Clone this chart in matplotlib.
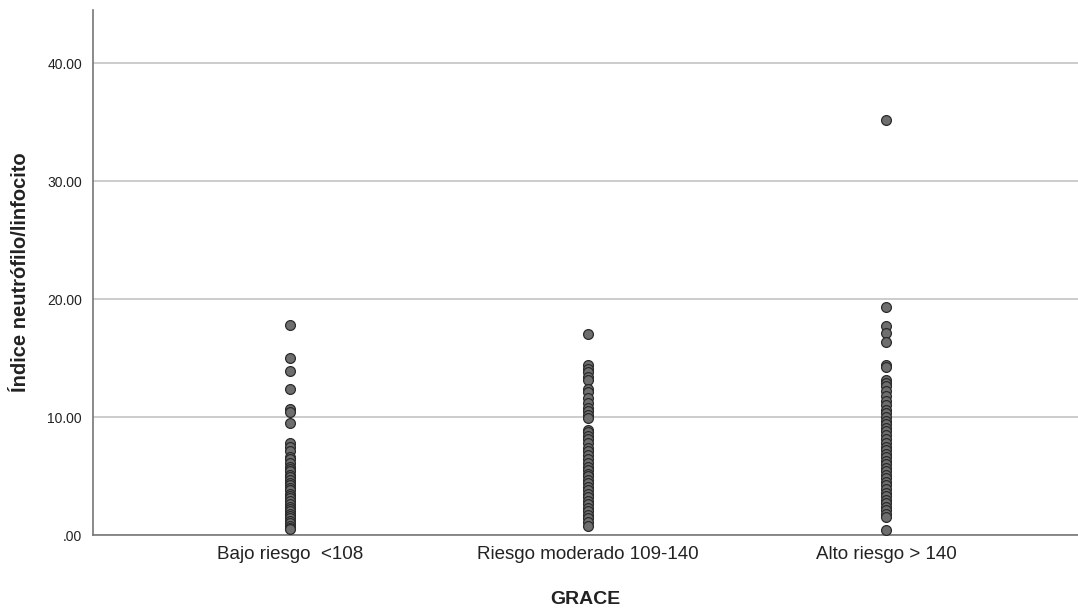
import matplotlib
matplotlib.use("Agg")
import matplotlib.pyplot as plt
import numpy as np

plt.rcParams['font.family'] = ['Liberation Sans', 'DejaVu Sans']

# categorias del eje X
categorias = ['Bajo riesgo  <108', 'Riesgo moderado 109-140', 'Alto riesgo > 140']

# valores del indice neutrofilo/linfocito por grupo
bajo = [17.8, 15.0, 13.9, 12.4, 10.7, 10.4, 9.5, 7.8, 7.5, 7.1, 6.6, 6.4,
        6.1, 5.8, 5.6, 5.4, 5.1, 4.9, 4.7, 4.4, 4.2, 4.0, 3.8, 3.5, 3.3, 3.1,
        2.9, 2.6, 2.4, 2.2, 2.0, 1.8, 1.6, 1.4, 1.2, 1.0, 0.8, 0.6, 0.5]
moderado = [17.0, 14.4, 14.1, 13.8, 13.4, 13.1, 12.4, 12.1, 11.6, 11.2, 10.8,
            10.5, 10.2, 9.9, 8.9, 8.7, 8.4, 8.1, 7.8, 7.4, 7.1, 6.8, 6.4, 6.1,
            5.8, 5.5, 5.2, 5.0, 4.7, 4.4, 4.1, 3.8, 3.5, 3.2, 2.9, 2.6, 2.3,
            2.0, 1.7, 1.4, 1.1, 0.8]
alto = [35.2, 19.3, 17.7, 17.1, 16.4, 14.4, 14.2, 13.1, 12.9, 12.6, 12.2,
        11.8, 11.4, 11.0, 10.6, 10.3, 10.0, 9.7, 9.4, 9.1, 8.8, 8.5, 8.1, 7.8,
        7.5, 7.2, 6.9, 6.6, 6.3, 6.0, 5.7, 5.4, 5.1, 4.8, 4.5, 4.2, 3.9, 3.6,
        3.3, 3.0, 2.7, 2.4, 2.1, 1.8, 1.5, 0.4]

y_ticks = [0, 10, 20, 30, 40]
y_tick_labels = ['.00', '10.00', '20.00', '30.00', '40.00']

fig = plt.figure(figsize=(10.78, 6.12), dpi=100)
ax = fig.add_axes([0.0863, 0.1258, 0.9137, 0.8579])

for i, grupo in enumerate([bajo, moderado, alto]):
    ax.scatter(np.full(len(grupo), i + 1), grupo, s=50, facecolor='#6e6e6e',
               edgecolor='#2b2b2b', linewidth=0.9, zorder=3)

ax.set_xlim(0.34, 3.644)
ax.set_ylim(0, 44.5)
ax.set_xticks([1, 2, 3])
ax.set_xticklabels(categorias, fontsize=13.5, color='#222222')
ax.set_yticks(y_ticks)
ax.set_yticklabels(y_tick_labels, fontsize=10, color='#222222')
ax.tick_params(axis='both', length=0)
ax.tick_params(axis='y', pad=8)
ax.tick_params(axis='x', pad=8)

ax.grid(axis='y', color='#c8c8c8', linewidth=1.3, zorder=0)
ax.set_axisbelow(True)

for lado in ['top', 'right']:
    ax.spines[lado].set_visible(False)
ax.spines['left'].set_color('#777777')
ax.spines['bottom'].set_color('#777777')
ax.spines['left'].set_linewidth(1.2)
ax.spines['bottom'].set_linewidth(1.2)

ax.set_xlabel('GRACE', fontsize=14, fontweight='bold', color='#222222', labelpad=20)
ax.set_ylabel('Índice neutrófilo/linfocito', fontsize=14.5, fontweight='bold',
              color='#222222', labelpad=12)

fig.savefig('out.png', dpi=100)
